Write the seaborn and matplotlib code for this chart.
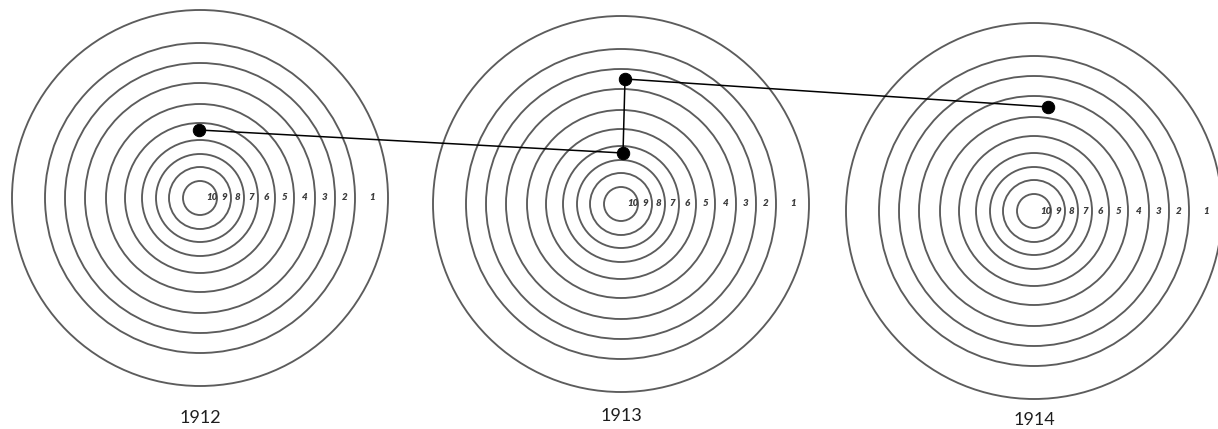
import numpy as np
import pandas as pd
import seaborn as sns
import matplotlib
matplotlib.use("Agg")
import matplotlib.pyplot as plt
from matplotlib.patches import Circle

# target layout
years = ["1912", "1913", "1914"]
scores = [1, 2, 3, 4, 5, 6, 7, 8, 9, 10]
ring_radii = [188, 155, 135, 115, 94, 75, 58, 44, 31, 17]  # ring for score 1..10

# shots, offsets from the target centre (right, up)
shot_year = ["1912", "1913", "1913", "1914"]
shot_dx = [-1, 2, 4, 14]
shot_up = [68, 51, 125, 104]

# where each target sits in the picture
centre_x = [200, 621, 1034]
centre_y = [198, 204, 211]
label_y = [418, 416, 420]

sns.set_style("white")
plt.rcParams["font.family"] = ["Lato", "DejaVu Sans"]

fig = plt.figure(figsize=(12.18, 4.29), dpi=100)
ax = fig.add_axes([0, 0, 1, 1])

ring_col = "#5c5c5c"
for i, yr in enumerate(years):
    cx, cy = centre_x[i], centre_y[i]
    for r in ring_radii:
        ax.add_patch(Circle((cx, cy), r, fill=False, ec=ring_col, lw=1.35))
    # ring numbers sit in the middle of each band, right of centre
    for k, s in enumerate(scores):
        r_out = ring_radii[k]
        r_in = ring_radii[k + 1] if k + 1 < len(ring_radii) else 0
        pos = (r_out + r_in) / 2 if r_in else r_out * 0.72
        ax.text(cx + pos, cy, str(s), fontsize=7, style="italic", fontweight="heavy",
                color="#3c3c3c", ha="center", va="center")
    ax.text(cx, label_y[i], yr, fontsize=13, color="#1e1e1e", ha="center", va="center")

shots = pd.DataFrame({"year": shot_year, "dx": shot_dx, "up": shot_up})
shots["x"] = [centre_x[years.index(y)] + d for y, d in zip(shots["year"], shots["dx"])]
shots["y"] = [centre_y[years.index(y)] - u for y, u in zip(shots["year"], shots["up"])]

sns.lineplot(data=shots, x="x", y="y", sort=False, estimator=None, color="black",
             lw=1.1, ax=ax, zorder=3)
sns.scatterplot(data=shots, x="x", y="y", color="black", s=80, edgecolor="black",
                ax=ax, zorder=4, legend=False)
ax.set_xlim(0, 1218)
ax.set_ylim(429, 0)
ax.set_axis_off()

fig.savefig("out.png", dpi=100, facecolor="white")
